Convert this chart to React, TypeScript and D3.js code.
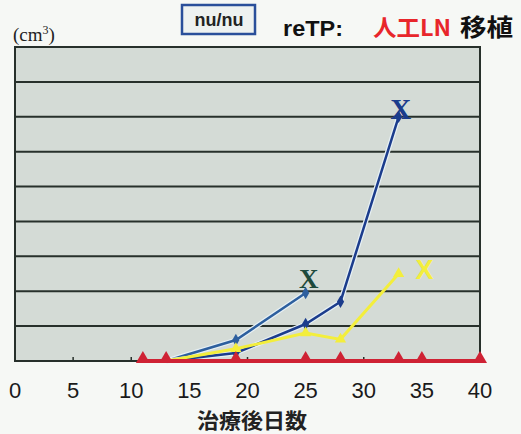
import React from "react";
import * as d3 from "d3";

const xTicks = [0, 5, 10, 15, 20, 25, 30, 35, 40];
const gridLevels = [1, 2, 3, 4, 5, 6, 7, 8];

const navyDays = [13, 19, 25, 28, 33];
const navyVals = [0, 0.23, 1.06, 1.7, 7.0];

const blueDays = [13, 19, 25];
const blueVals = [0, 0.6, 1.95];

const yellowDays = [13, 19, 25, 28, 33];
const yellowVals = [0, 0.35, 0.8, 0.62, 2.5];

const redDays = [11, 13, 19, 25, 28, 33, 35, 40];
const redVals = [0, 0, 0, 0, 0, 0, 0, 0];

const W = 521;
const H = 434;
const left = 15;
const right = 480;
const top = 47;
const bottom = 361;

export default function App() {
  const x = d3.scaleLinear().domain([0, 40]).range([left, right]);
  const y = d3.scaleLinear().domain([0, 9]).range([bottom, top]);
  const line = d3
    .line<[number, number]>()
    .x((d) => x(d[0]))
    .y((d) => y(d[1]));
  const zip = (a: number[], b: number[]) => a.map((d, i) => [d, b[i]] as [number, number]);

  const navy = zip(navyDays, navyVals);
  const blue = zip(blueDays, blueVals);
  const yellow = zip(yellowDays, yellowVals);
  const red = zip(redDays, redVals);

  const diamond = d3.symbol(d3.symbolDiamond, 45)() as string;
  const tri = d3.symbol(d3.symbolTriangle, 85)() as string;
  const triY = d3.symbol(d3.symbolTriangle, 55)() as string;

  return (
    <div style={{ position: "fixed", left: 0, top: 0 }}>
      <svg width={W} height={H} style={{ display: "block" }}>
        <rect x={0} y={0} width={W} height={H} fill="#f6f8f5" />
        {/* legend box */}
        <rect x={182} y={5} width={73} height={29} fill="#eef2f0" stroke="#2a4f9a" strokeWidth={2.5} />
        <text x={219} y={26} textAnchor="middle" fontFamily="Liberation Sans, Arial, sans-serif" fontWeight="bold" fontSize={18} fill="#222">
          nu/nu
        </text>
        <text x={283} y={36} fontFamily="Liberation Sans, Arial, sans-serif" fontWeight="bold" fontSize={22} fill="#111" textLength={60} lengthAdjust="spacingAndGlyphs">
          reTP:
        </text>
        <text x={373} y={36} fontFamily="Noto Sans CJK JP, sans-serif" fontWeight="bold" fontSize={23} fill="#e8262b" textLength={78} lengthAdjust="spacingAndGlyphs">
          人工LN
        </text>
        <text x={460} y={36} fontFamily="Noto Sans CJK JP, sans-serif" fontWeight="bold" fontSize={24} fill="#111" textLength={53} lengthAdjust="spacingAndGlyphs">
          移植
        </text>
        <text x={13} y={41} fontFamily="Liberation Serif, Times New Roman, serif" fontSize={19} fill="#222">
          (cm<tspan dy={-7} fontSize={12}>3</tspan><tspan dy={7}>)</tspan>
        </text>

        {/* plot area */}
        <rect x={left} y={top} width={right - left} height={bottom - top} fill="#d4dbd6" />
        {gridLevels.map((g) => (
          <line key={g} x1={left} x2={right} y1={y(g)} y2={y(g)} stroke="#27302b" strokeWidth={2} />
        ))}
        <rect x={left} y={top} width={right - left} height={bottom - top} fill="none" stroke="#27302b" strokeWidth={2} />
        {xTicks.map((t) => (
          <line key={t} x1={x(t)} x2={x(t)} y1={bottom} y2={bottom - 4} stroke="#27302b" strokeWidth={1.5} />
        ))}

        {/* series */}
        <path d={line(blue) as string} fill="none" stroke="#e6f0f5" strokeWidth={5} />
        <path d={line(blue) as string} fill="none" stroke="#2d5f9e" strokeWidth={2.5} />
        {blue.slice(1).map((d, i) => (
          <path key={i} d={diamond} transform={`translate(${x(d[0])},${y(d[1])})`} fill="#2d5f9e" />
        ))}
        <path d={line(navy) as string} fill="none" stroke="#e6f0f5" strokeWidth={5} />
        <path d={line(navy) as string} fill="none" stroke="#1b3c8c" strokeWidth={2.5} />
        {navy.slice(1).map((d, i) => (
          <path key={i} d={diamond} transform={`translate(${x(d[0])},${y(d[1])})`} fill="#1b3c8c" />
        ))}
        <path d={line(yellow) as string} fill="none" stroke="#f3ee3c" strokeWidth={3} />
        {yellow.slice(1).map((d, i) => (
          <path key={i} d={triY} transform={`translate(${x(d[0])},${y(d[1])})`} fill="#f3ee3c" />
        ))}
        <path d={line(red) as string} fill="none" stroke="#cf2234" strokeWidth={4} />
        {red.map((d, i) => (
          <path key={i} d={tri} transform={`translate(${x(d[0])},${y(d[1]) - 2})`} fill="#cf2234" />
        ))}

        {/* end labels */}
        <text x={x(25) + 3} y={y(blueVals[2]) - 5} textAnchor="middle" fontFamily="Liberation Serif, serif" fontWeight="bold" fontSize={27} fill="#1e4a3c">
          X
        </text>
        <text x={x(33) + 2} y={y(navyVals[4]) + 2} textAnchor="middle" fontFamily="Liberation Serif, serif" fontWeight="bold" fontSize={29} fill="#1b3c8c">
          X
        </text>
        <text x={x(33) + 26} y={y(yellowVals[4]) + 5} textAnchor="middle" fontFamily="Liberation Sans, sans-serif" fontWeight="bold" fontSize={27} fill="#f3ee3c">
          X
        </text>

        {/* x axis labels */}
        {xTicks.map((t) => (
          <text key={t} x={x(t)} y={398} textAnchor="middle" fontFamily="Liberation Sans, Arial, sans-serif" fontSize={22} fill="#1a1a1a">
            {t}
          </text>
        ))}
        <text x={252} y={428} textAnchor="middle" fontFamily="Noto Sans CJK JP, sans-serif" fontWeight="bold" fontSize={21} fill="#222" textLength={110} lengthAdjust="spacingAndGlyphs">
          治療後日数
        </text>
      </svg>
    </div>
  );
}
